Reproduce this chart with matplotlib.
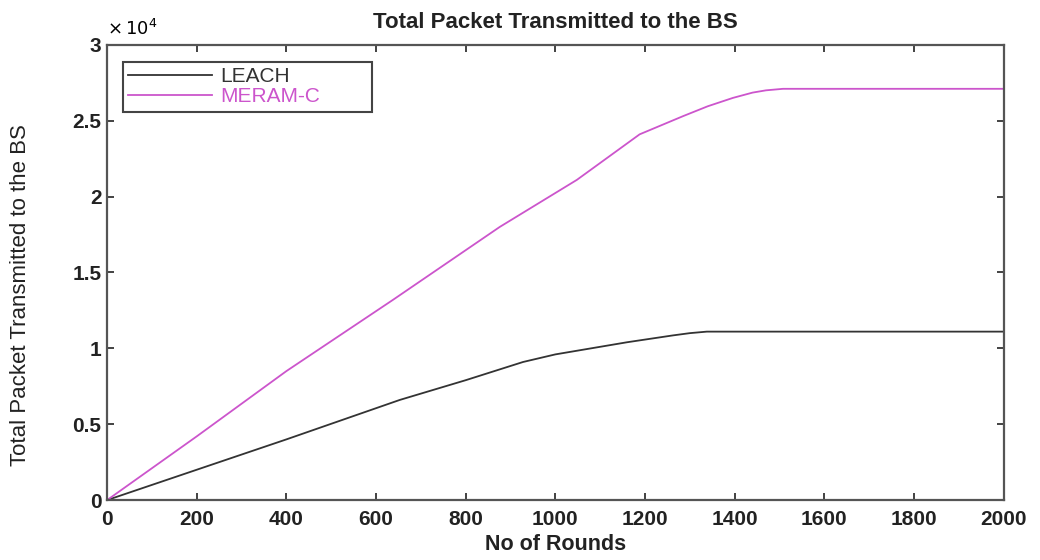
import matplotlib
matplotlib.use("Agg")
import matplotlib.pyplot as plt
from matplotlib.ticker import FuncFormatter, MultipleLocator

# data (y in packets)
leach_rounds = [0, 200, 400, 653, 800, 928, 1000, 1160, 1262, 1300, 1338, 2000]
leach_packets = [0, 2000, 4000, 6600, 7900, 9100, 9600, 10400, 10850, 11000, 11100, 11100]

meram_rounds = [0, 200, 400, 638, 876, 1048, 1188, 1285, 1340, 1396, 1440, 1470, 1508, 2000]
meram_packets = [0, 4200, 8500, 13200, 18000, 21100, 24100, 25300, 25950, 26500, 26850, 27000, 27100, 27100]

series_labels = ["LEACH", "MERAM-C"]
series_colors = ["#333333", "#cc55cc"]

plt.rcParams['font.family'] = ['Liberation Sans', 'DejaVu Sans']

fig = plt.figure(figsize=(10.4, 5.6), dpi=100)
ax = fig.add_axes([0.103, 0.107, 0.862, 0.813])

ax.plot(leach_rounds, leach_packets, color=series_colors[0], lw=1.3, label=series_labels[0])
ax.plot(meram_rounds, meram_packets, color=series_colors[1], lw=1.3, label=series_labels[1])

ax.set_xlim(0, 2000)
ax.set_ylim(0, 30000)
ax.xaxis.set_major_locator(MultipleLocator(200))
ax.yaxis.set_major_locator(MultipleLocator(5000))
ax.yaxis.set_major_formatter(FuncFormatter(lambda v, p: "%g" % (v / 1e4)))

ax.tick_params(direction='in', length=5, width=1.2, top=True, right=True,
               labelsize=15, colors='#222222')
ax.tick_params(axis='x', pad=7)
ax.tick_params(axis='y', pad=4)
for lab in ax.get_xticklabels() + ax.get_yticklabels():
    lab.set_fontweight('bold')
for sp in ax.spines.values():
    sp.set_color('#555555')
    sp.set_linewidth(1.6)

# MATLAB-style exponent above the y axis
ax.text(0.0, 1.012, r"$\times\,10^{4}$", transform=ax.transAxes, fontsize=13,
        ha='left', va='bottom')

ax.set_title("Total Packet Transmitted to the BS", fontsize=16, fontweight='bold',
             color='#222222', pad=12)
ax.set_xlabel("No of Rounds", fontsize=15.5, fontweight='bold', color='#222222', labelpad=4)
ax.set_ylabel("Total Packet Transmitted to the BS", fontsize=16, color='#222222')
ax.yaxis.set_label_coords(-0.085, 0.45)

leg = ax.legend(loc='upper left', bbox_to_anchor=(0.018, 0.80, 0.277, 0.162),
                mode='expand', borderaxespad=0,
                fontsize=15, handlelength=4.0, handletextpad=0.4, borderpad=0.25,
                labelspacing=0.05, fancybox=False, framealpha=1)
leg.get_frame().set_edgecolor('#444444')
leg.get_frame().set_linewidth(1.5)
for txt, c in zip(leg.get_texts(), series_colors):
    txt.set_color(c)

fig.savefig("out.png", dpi=100)
